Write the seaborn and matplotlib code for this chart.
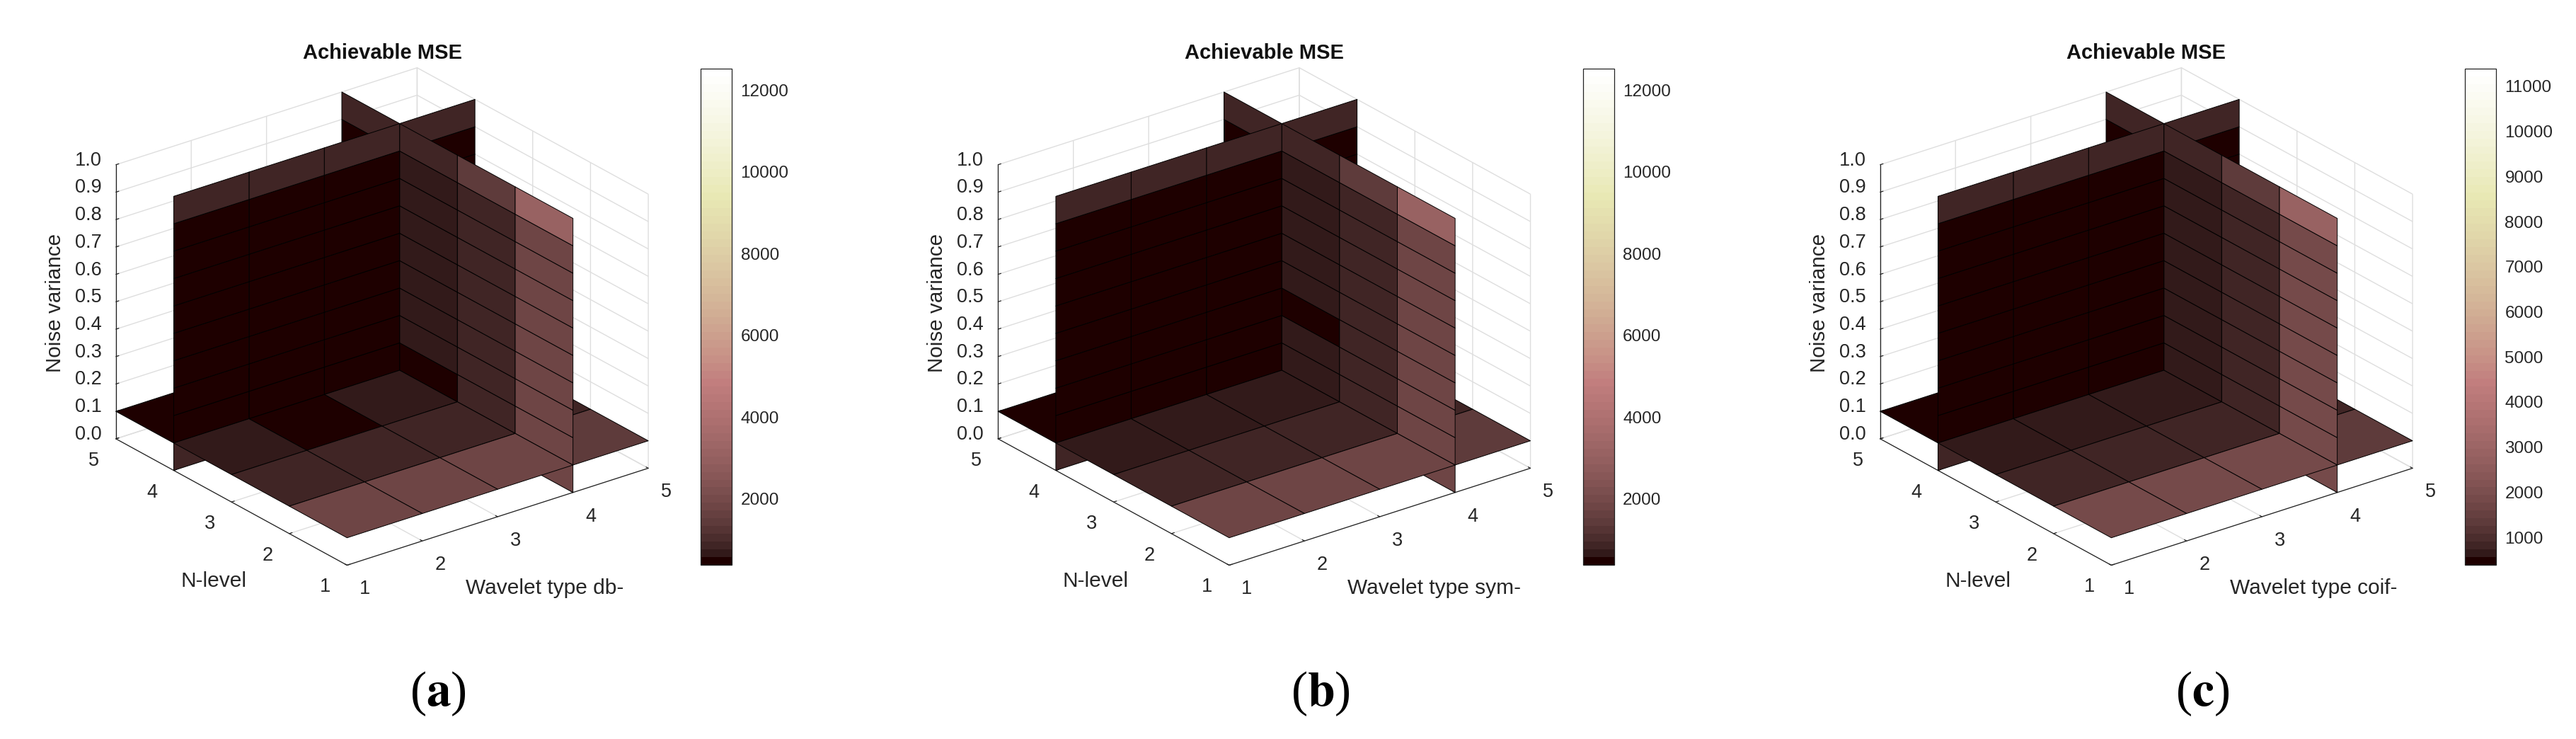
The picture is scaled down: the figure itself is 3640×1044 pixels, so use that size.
#Slice plots of achievable MSE for three wavelet families
import numpy as np
import matplotlib
matplotlib.use('Agg')
import matplotlib.pyplot as plt
from mpl_toolkits.mplot3d import proj3d
import seaborn as sns

# cell values of the three slices, top row of each wall is noise variance 0.9-1.0
# wall at wavelet type 4, columns are N-level 1-2 .. 4-5
db_wall_x = [[3140, 1430, 860, 860], [1810, 860, 670, 485], [1810, 860, 670, 485], [1810, 860, 670, 485],
             [1810, 860, 670, 485], [1810, 860, 670, 485], [1810, 860, 670, 485], [1810, 860, 670, 485],
             [1810, 860, 485, 485], [1810, 860, 670, 485]]
sym_wall_x = [[3140, 1430, 860, 860], [1810, 860, 670, 485], [1810, 860, 670, 485], [1810, 860, 670, 485],
              [1810, 860, 670, 485], [1810, 860, 670, 485], [1810, 860, 485, 485], [1810, 860, 670, 485],
              [1810, 860, 670, 485], [1810, 860, 670, 485]]
coif_wall_x = [[2960, 1330, 820, 820], [1850, 820, 650, 475], [1850, 820, 650, 475], [1850, 820, 650, 475],
               [1850, 820, 650, 475], [1850, 820, 650, 475], [1850, 820, 650, 475], [1850, 820, 650, 475],
               [1850, 820, 650, 475], [1850, 820, 650, 475]]

# wall at N-level 4, columns are wavelet type 1-2 .. 4-5
db_wall_y = [[860, 860, 860, 860]] + [[485, 485, 485, 485]] * 8 + [[860, 860, 860, 860]]
sym_wall_y = [[860, 860, 860, 860]] + [[485, 485, 485, 485]] * 8 + [[860, 860, 860, 860]]
coif_wall_y = [[820, 820, 820, 820]] + [[475, 475, 475, 475]] * 8 + [[820, 820, 820, 820]]

# floor at noise variance 0.1, rows are N-level 1-2 .. 4-5
db_floor = [[1810, 1810, 1810, 1430], [860, 860, 860, 860], [670, 485, 670, 670], [485, 485, 485, 485]]
sym_floor = [[1810, 1810, 1810, 1430], [860, 860, 860, 860], [670, 670, 670, 670], [485, 485, 485, 485]]
coif_floor = [[1850, 1850, 1850, 1330], [820, 820, 820, 820], [650, 650, 650, 650], [475, 475, 475, 475]]

panel_names = ['db', 'sym', 'coif']
panel_letters = ['a', 'b', 'c']
color_limits = [(390, 12520), (390, 12520), (388, 11392)]
color_ticks = [list(range(2000, 12001, 2000)), list(range(2000, 12001, 2000)), list(range(1000, 11001, 1000))]
wall_x = [db_wall_x, sym_wall_x, coif_wall_x]
wall_y = [db_wall_y, sym_wall_y, coif_wall_y]
floors = [db_floor, sym_floor, coif_floor]

grid_xy = np.array([1, 2, 3, 4, 5])
grid_z = np.round(np.arange(0, 1.01, 0.1), 1)
slice_x = 4
slice_y = 4
slice_z = 0.1

W, H = 3640, 1044
TXT = '#262626'

sns.set_theme(style='white')
plt.rcParams['font.family'] = ['Liberation Sans', 'DejaVu Sans']

fig = plt.figure(figsize=(W / 100, H / 100), dpi=100)
cmap = plt.get_cmap('pink', 64)


def draw_piece(ax, X, Y, Z, vals, norm, order):
    # one flat piece of a slice, flat colour per cell with black edges
    ax.plot_surface(X, Y, Z, facecolors=cmap(norm(vals)), shade=False, rstride=1, cstride=1,
                    edgecolor='black', linewidth=0.7, antialiased=True, zorder=order)


def draw_slices(ax, vx, vy, vf, norm):
    # painter order, far side of each plane first (camera sits at low x, low y, high z)
    vx = np.array(vx)[::-1]
    vy = np.array(vy)[::-1]
    vf = np.array(vf)
    order = [0]

    def floor_piece(x0, x1, y0, y1):
        order[0] += 1
        xs, ys = np.meshgrid(grid_xy[x0:x1 + 1], grid_xy[y0:y1 + 1])
        draw_piece(ax, xs, ys, np.full(xs.shape, slice_z), vf[y0:y1, x0:x1], norm, order[0])

    def xwall_piece(y0, y1, z0, z1):
        order[0] += 1
        ys, zs = np.meshgrid(grid_xy[y0:y1 + 1], grid_z[z0:z1 + 1])
        draw_piece(ax, np.full(ys.shape, slice_x), ys, zs, vx[z0:z1, y0:y1], norm, order[0])

    def ywall_piece(x0, x1, z0, z1):
        order[0] += 1
        xs, zs = np.meshgrid(grid_xy[x0:x1 + 1], grid_z[z0:z1 + 1])
        draw_piece(ax, xs, np.full(xs.shape, slice_y), zs, vy[z0:z1, x0:x1], norm, order[0])

    # x beyond the wall
    floor_piece(3, 4, 3, 4)
    ywall_piece(3, 4, 0, 1)
    ywall_piece(3, 4, 1, 10)
    floor_piece(3, 4, 0, 3)
    # the wall at x
    xwall_piece(3, 4, 0, 1)
    xwall_piece(3, 4, 1, 10)
    xwall_piece(0, 3, 0, 1)
    xwall_piece(0, 3, 1, 10)
    # x in front of the wall
    floor_piece(0, 3, 3, 4)
    ywall_piece(0, 3, 0, 1)
    ywall_piece(0, 3, 1, 10)
    floor_piece(0, 3, 0, 3)


def tick_label(ax, text, x, y, z, shift):
    # mplot3d labels can only be padded along one direction, so place them from the tick position
    px, py, _ = proj3d.proj_transform(x, y, z, ax.get_proj())
    ax.annotate(text, (px, py), xytext=shift, textcoords='offset pixels', ha='center', va='center',
                fontsize=19.5, color=TXT, annotation_clip=False)


offset = 1246.5
for i, name in enumerate(panel_names):
    left = 106 + i * offset
    ax = fig.add_axes([left / W, 163 / H, 845 / W, 845 / H], projection='3d')
    ax.patch.set_alpha(0)
    ax.set_proj_type('ortho')
    ax.view_init(elev=24.8, azim=-127.5)
    ax.set_box_aspect((1, 1, 0.795))
    ax.computed_zorder = False
    ax.set_xlim(1, 5, view_margin=0)
    ax.set_ylim(1, 5, view_margin=0)
    ax.set_zlim(0, 1, view_margin=0)

    norm = plt.Normalize(*color_limits[i])
    draw_slices(ax, wall_x[i], wall_y[i], floors[i], norm)

    ax.set_xticks(grid_xy)
    ax.set_yticks(grid_xy)
    ax.set_zticks(grid_z)
    ax.set_xticklabels([])
    ax.set_yticklabels([])
    ax.set_zticklabels([])
    for v in grid_xy:
        tick_label(ax, str(v), v, 1, 0, (25, -34))
        tick_label(ax, str(v), 1, v, 0, (-31, -31))
    for v in grid_z:
        tick_label(ax, '%.1f' % v, 1, 5, v, (-39, 6))

    for axis in (ax.xaxis, ax.yaxis, ax.zaxis):
        axis.set_pane_color((1, 1, 1, 1))
        axis.pane.set_edgecolor('white')
        axis.line.set_color('#222222')
        axis.line.set_linewidth(0.9)
        axis._axinfo['grid']['color'] = '#dedede'
        axis._axinfo['grid']['linewidth'] = 1.0
        axis._axinfo['tick']['inward_factor'] = 0.0
        axis._axinfo['tick']['outward_factor'] = 0.12
        axis._axinfo['tick']['linewidth'] = {True: 0.9, False: 0.9}
        axis._axinfo['tick']['color'] = '#222222'

    # titles and labels sit where the picture has them
    dx = i * offset
    fig.text((540 + dx) / W, 1 - 75 / H, 'Achievable MSE', ha='center', va='center', fontsize=21,
             fontweight='bold', color='#111111')
    fig.text((78 + dx) / W, 1 - 428 / H, 'Noise variance', ha='center', va='center', rotation=90,
             fontsize=21.3, color=TXT)
    fig.text((302 + dx) / W, 1 - 821 / H, 'N-level', ha='center', va='center', fontsize=21.5, color=TXT)
    fig.text((658 + dx) / W, 1 - 831 / H, 'Wavelet type ' + name + '-', ha='left', va='center',
             fontsize=21.5, color=TXT)
    fig.text((619 + dx) / W, 1 - 980 / H, '($\\mathbf{' + panel_letters[i] + '}$)', ha='center', va='center',
             fontsize=50, family='Liberation Serif', math_fontfamily='stix', color='black')

    cax = fig.add_axes([(990 + dx) / W, 1 - 798 / H, 44 / W, 701 / H])
    cb = fig.colorbar(plt.cm.ScalarMappable(norm=norm, cmap=cmap), cax=cax, ticks=color_ticks[i])
    cb.ax.tick_params(direction='in', length=6, width=0.9, color='#222222', labelsize=17.5,
                      labelcolor=TXT, pad=9, right=True)
    cb.outline.set_edgecolor('#222222')
    cb.outline.set_linewidth(0.9)

fig.savefig('out.png', dpi=100)
